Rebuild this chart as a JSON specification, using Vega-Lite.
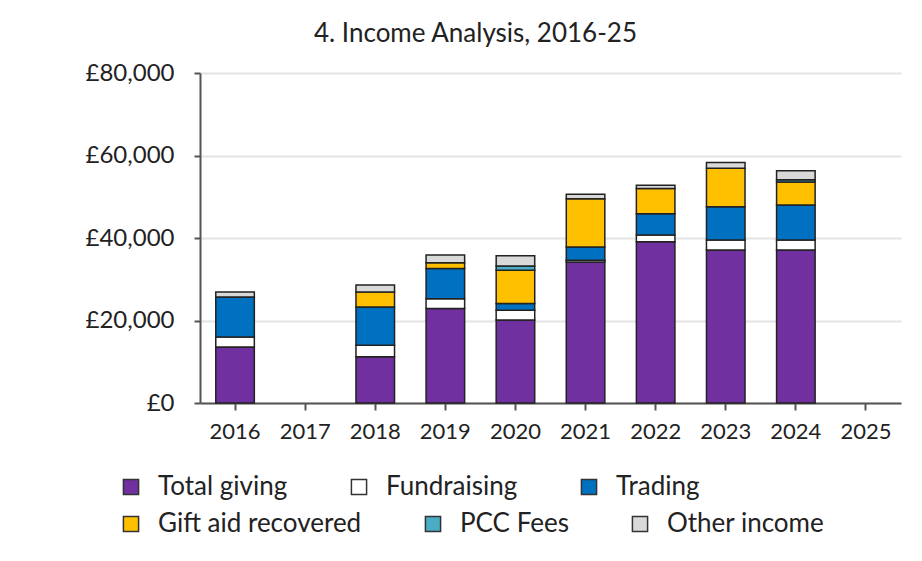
{
  "$schema": "https://vega.github.io/schema/vega-lite/v6.json",
  "width": 701,
  "height": 330,
  "autosize": {"type": "none"},
  "padding": {"left": 200, "top": 73, "right": 21, "bottom": 158},
  "background": "#ffffff",
  "title": {"text": "4. Income Analysis, 2016-25", "font": "Lato", "fontSize": 26, "fontWeight": "normal", "color": "#222222", "anchor": "middle", "dx": -75, "offset": 14},
  "data": {"values": [
    {"year": "2016", "type": "Total giving", "value": 13600},
    {"year": "2016", "type": "Fundraising", "value": 2400},
    {"year": "2016", "type": "Trading", "value": 9700},
    {"year": "2016", "type": "Other income", "value": 1200},
    {"year": "2018", "type": "Total giving", "value": 11200},
    {"year": "2018", "type": "Fundraising", "value": 2800},
    {"year": "2018", "type": "Trading", "value": 9300},
    {"year": "2018", "type": "Gift aid recovered", "value": 3600},
    {"year": "2018", "type": "Other income", "value": 1700},
    {"year": "2019", "type": "Total giving", "value": 22900},
    {"year": "2019", "type": "Fundraising", "value": 2400},
    {"year": "2019", "type": "Trading", "value": 7300},
    {"year": "2019", "type": "Gift aid recovered", "value": 1400},
    {"year": "2019", "type": "Other income", "value": 1900},
    {"year": "2020", "type": "Total giving", "value": 20100},
    {"year": "2020", "type": "Fundraising", "value": 2400},
    {"year": "2020", "type": "Trading", "value": 1600},
    {"year": "2020", "type": "Gift aid recovered", "value": 8100},
    {"year": "2020", "type": "PCC Fees", "value": 1000},
    {"year": "2020", "type": "Other income", "value": 2500},
    {"year": "2021", "type": "Total giving", "value": 34200},
    {"year": "2021", "type": "Fundraising", "value": 400},
    {"year": "2021", "type": "Trading", "value": 3200},
    {"year": "2021", "type": "Gift aid recovered", "value": 11700},
    {"year": "2021", "type": "Other income", "value": 1100},
    {"year": "2022", "type": "Total giving", "value": 39100},
    {"year": "2022", "type": "Fundraising", "value": 1600},
    {"year": "2022", "type": "Trading", "value": 5200},
    {"year": "2022", "type": "Gift aid recovered", "value": 6100},
    {"year": "2022", "type": "Other income", "value": 800},
    {"year": "2023", "type": "Total giving", "value": 37100},
    {"year": "2023", "type": "Fundraising", "value": 2400},
    {"year": "2023", "type": "Trading", "value": 8100},
    {"year": "2023", "type": "Gift aid recovered", "value": 9300},
    {"year": "2023", "type": "Other income", "value": 1400},
    {"year": "2024", "type": "Total giving", "value": 37100},
    {"year": "2024", "type": "Fundraising", "value": 2400},
    {"year": "2024", "type": "Trading", "value": 8500},
    {"year": "2024", "type": "Gift aid recovered", "value": 5600},
    {"year": "2024", "type": "PCC Fees", "value": 500},
    {"year": "2024", "type": "Other income", "value": 2200}
  ]},
  "transform": [
    {"calculate": "indexof(['Total giving','Fundraising','Trading','Gift aid recovered','PCC Fees','Other income'], datum.type)", "as": "sortIndex"},
    {"stack": "value", "groupby": ["year"], "sort": [{"field": "sortIndex", "order": "ascending"}], "as": ["v0", "v1"]}
  ],
  "encoding": {
    "x": {
      "field": "year", "type": "nominal",
      "scale": {"domain": ["2016","2017","2018","2019","2020","2021","2022","2023","2024","2025"], "paddingInner": 0.45, "paddingOuter": 0.225},
      "axis": {"title": null, "labelAngle": 0, "labelFont": "Lato", "labelFontSize": 22, "labelColor": "#222222", "domainColor": "#555555", "domainWidth": 2, "tickColor": "#555555", "tickWidth": 2, "tickSize": 7, "labelPadding": 11, "grid": false}
    },
    "y": {
      "field": "v0", "type": "quantitative",
      "scale": {"domain": [0, 80000]},
      "axis": {"title": null, "values": [0, 20000, 40000, 60000, 80000], "labelExpr": "'£' + format(datum.value, ',')", "labelFont": "Lato", "labelFontSize": 24, "labelColor": "#222222", "domainColor": "#555555", "domainWidth": 2, "tickColor": "#555555", "tickSize": 6, "tickWidth": 2, "labelPadding": 20, "gridColor": "#e4e4e4", "gridWidth": 2}
    },
    "y2": {"field": "v1"}
  },
  "layer": [
    {
      "transform": [{"filter": "datum.sortIndex < 3"}],
      "mark": {"type": "bar", "stroke": "#222222", "strokeWidth": 1.5},
      "encoding": {
        "color": {
          "field": "type", "type": "nominal",
          "scale": {"domain": ["Total giving", "Fundraising", "Trading"], "range": ["#7030a0", "#ffffff", "#0070c0"]},
          "legend": {
            "title": null, "orient": "none", "legendX": -82, "legendY": 401, "direction": "horizontal",
            "symbolType": "square", "symbolSize": 230, "symbolStrokeColor": "#333333", "symbolStrokeWidth": 1.5,
            "labelFont": "Lato", "labelFontSize": 26, "labelColor": "#222222", "labelLimit": 400, "labelOffset": 14,
            "columnPadding": 58
          }
        }
      }
    },
    {
      "transform": [{"filter": "datum.sortIndex >= 3"}],
      "mark": {"type": "bar", "stroke": "#222222", "strokeWidth": 1.5},
      "encoding": {
        "color": {
          "field": "type", "type": "nominal",
          "scale": {"domain": ["Gift aid recovered", "PCC Fees", "Other income"], "range": ["#ffc000", "#4bacc6", "#d9d9d9"]},
          "legend": {
            "title": null, "orient": "none", "legendX": -82, "legendY": 438, "direction": "horizontal",
            "symbolType": "square", "symbolSize": 230, "symbolStrokeColor": "#333333", "symbolStrokeWidth": 1.5,
            "labelFont": "Lato", "labelFontSize": 26, "labelColor": "#222222", "labelLimit": 400, "labelOffset": 14,
            "columnPadding": 58
          }
        }
      }
    }
  ],
  "resolve": {"scale": {"color": "independent"}, "legend": {"color": "independent"}},
  "config": {"view": {"stroke": null}}
}
